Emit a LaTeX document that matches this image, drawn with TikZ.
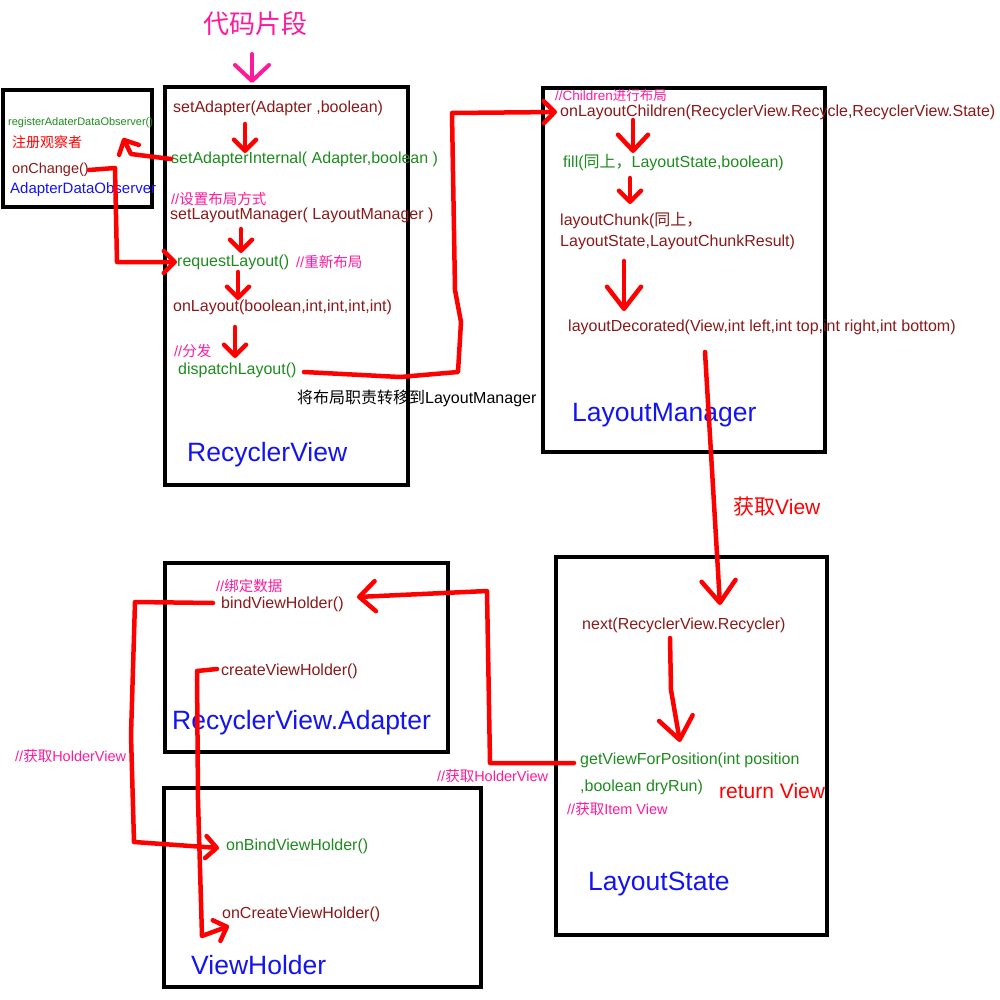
\documentclass[tikz,border=0pt]{standalone}
\usepackage{fontspec}
\setmainfont{Liberation Sans}
\newfontfamily\cjk{Noto Sans CJK SC}
\usetikzlibrary{arrows.meta}
\definecolor{dred}{HTML}{8B1A1A}
\definecolor{dgreen}{HTML}{1E8C1E}
\definecolor{dblue}{HTML}{1414F0}
\definecolor{pinkc}{HTML}{FF1A9C}
\definecolor{rline}{HTML}{FF0000}
\tikzset{
  lbl/.style={anchor=west,inner sep=0pt},
  fsz/.style={font=\fontsize{#1}{#1}\selectfont},
  drtxt/.style={lbl,text=dred,fsz=16},
  grtxt/.style={lbl,text=dgreen,fsz=16},
  cmnt/.style={lbl,text=pinkc,fsz=14.5},
  ttl/.style={lbl,text=dblue,fsz=26.5},
  boxx/.style={draw=black,line width=3.5pt},
  rl/.style={draw=rline,line width=4.5pt,line cap=round,line join=round},
  tipS/.style={-{Straight Barb[round,length=11pt,width=22pt]}},
  tipM/.style={-{Straight Barb[round,length=16pt,width=30pt]}},
  tipL/.style={-{Straight Barb[round,length=22pt,width=34pt]}},
}
\begin{document}
\begin{tikzpicture}[x=1pt,y=-1pt]
\useasboundingbox (0,0) rectangle (1000,1000);
\fill[white] (0,0) rectangle (1000,1000);

% boxes
\draw[boxx] (3,90) rectangle (152,207);
\draw[boxx] (165,87) rectangle (408,485);
\draw[boxx] (543,88) rectangle (825,452);
\draw[boxx] (556,557) rectangle (827,935);
\draw[boxx] (165,563) rectangle (448,752);
\draw[boxx] (164,788) rectangle (481,987);

% title
\node[text=pinkc,fsz=26,inner sep=0pt] (title) at (255,24) {\cjk 代码片段};
\coordinate (ta) at (252,54);
\coordinate (tb) at (252,83);
\draw[draw=pinkc,line width=4pt,line cap=round,-{Straight Barb[round,length=16pt,width=34pt]}] (ta) -- (tb);

% observer box
\node[lbl,text=dgreen,fsz=11] (reg) at (8,123) {registerAdaterDataObserver()};
\node[lbl,text=rline,fsz=14] (zc) at (12,142) {\cjk 注册观察者};
\node[lbl,text=dred,fsz=14.5] (onch) at (12,170) {onChange()};
\node[lbl,text=dblue,fsz=15] (ado) at (10,190) {AdapterDataObserver};

% RecyclerView box
\node[drtxt] (sa) at (173,108) {setAdapter(Adapter ,boolean)};
\node[grtxt] (sai) at (171,159) {setAdapterInternal( Adapter,boolean )};
\node[cmnt] (c1) at (171,199) {//{\cjk 设置布局方式}};
\node[drtxt] (slm) at (170,215) {setLayoutManager( LayoutManager )};
\node[grtxt] (rql) at (177,262) {requestLayout()};
\node[cmnt] (c2) at (296,262) {//{\cjk 重新布局}};
\node[drtxt] (onl) at (173,307) {onLayout(boolean,int,int,int,int)};
\node[cmnt] (c3) at (174,351) {//{\cjk 分发}};
\node[grtxt] (dsp) at (178,370) {dispatchLayout()};
\node[lbl,text=black,fsz=16] (trans) at (297,398) {{\cjk 将布局职责转移到}LayoutManager};
\node[ttl] (rvt) at (187,455) {RecyclerView};

% LayoutManager box
\node[cmnt,fsz=13.5] (c4) at (555,95) {//Children{\cjk 进行布局}};
\node[drtxt] (olc) at (560,112) {onLayoutChildren(RecyclerView.Recycle,RecyclerView.State)};
\node[grtxt] (fill) at (563,163) {fill({\cjk 同上，}LayoutState,boolean)};
\node[drtxt] (lc1) at (560,221) {layoutChunk({\cjk 同上，}};
\node[drtxt] (lc2) at (560,242) {LayoutState,LayoutChunkResult)};
\node[drtxt] (ld) at (568,327) {layoutDecorated(View,int left,int top,int right,int bottom)};
\node[ttl] (lmt) at (572,415) {LayoutManager};
\node[lbl,text=rline,fsz=21] (gv) at (733,507) {{\cjk 获取}View};

% LayoutState box
\node[drtxt] (nxt) at (582,625) {next(RecyclerView.Recycler)};
\node[grtxt] (gvp1) at (580,760) {getViewForPosition(int position};
\node[grtxt] (gvp2) at (580,787) {,boolean dryRun)};
\node[lbl,text=rline,fsz=21] (rv) at (719,791) {return View};
\node[cmnt] (c5) at (567,809) {//{\cjk 获取}Item View};
\node[ttl] (lst) at (588,884) {LayoutState};
\node[cmnt] (c6) at (437,776) {//{\cjk 获取}HolderView};

% Adapter box
\node[cmnt] (c7) at (216,586) {//{\cjk 绑定数据}};
\node[drtxt] (bvh) at (221,604) {bindViewHolder()};
\node[drtxt] (cvh) at (221,671) {createViewHolder()};
\node[ttl] (adt) at (172,723) {RecyclerView.Adapter};
\node[cmnt] (c8) at (15,756) {//{\cjk 获取}HolderView};

% ViewHolder box
\node[grtxt] (obvh) at (226,846) {onBindViewHolder()};
\node[drtxt] (ocvh) at (222,914) {onCreateViewHolder()};
\node[ttl] (vht) at (191,965) {ViewHolder};

% short down arrows
\coordinate (a1s) at (245,124); \coordinate (a1e) at (245,153);
\coordinate (a2s) at (241,229); \coordinate (a2e) at (241,253);
\coordinate (a3s) at (238,272); \coordinate (a3e) at (238,300);
\coordinate (a4s) at (235,327); \coordinate (a4e) at (235,358);
\coordinate (a5s) at (633,120); \coordinate (a5e) at (633,153);
\coordinate (a6s) at (630,178); \coordinate (a6e) at (630,204);
\coordinate (a7s) at (624,261); \coordinate (a7e) at (624,311);
\draw[rl,tipS] (a1s) -- (a1e);
\draw[rl,tipS] (a2s) -- (a2e);
\draw[rl,tipS] (a3s) -- (a3e);
\draw[rl,tipS] (a4s) -- (a4e);
\draw[rl,tipM] (a5s) -- (a5e);
\draw[rl,tipS] (a6s) -- (a6e);
\draw[rl,tipL] (a7s) -- (a7e);

% setAdapterInternal -> register observer
\coordinate (r1) at (131,154);
\coordinate (r2) at (123,138);
\draw[rl,tipS] (sai.west) -- (r1) -- (r2);

% onChange -> requestLayout
\coordinate (o1) at (115,168);
\coordinate (o2) at (117,262);
\draw[rl,tipS] (onch.east) -- (o1) -- (o2) -- (rql.west);

% dispatchLayout -> onLayoutChildren
\coordinate (d0) at (304,372);
\coordinate (d1) at (400,377);
\coordinate (d2) at (458,372);
\coordinate (d3) at (461,322);
\coordinate (d4) at (455,290);
\coordinate (d5) at (452,113);
\coordinate (d6) at (557,112);
\draw[rl,tipS] (d0) -- (d1) -- (d2) -- (d3) -- (d4) -- (d5) -- (d6);

% layoutDecorated -> next
\coordinate (l0) at (705,352);
\coordinate (l1) at (712,470);
\coordinate (l2) at (720,605);
\draw[rl,tipL] (l0) -- (l1) -- (l2);

% next -> getViewForPosition
\coordinate (n0) at (670,638);
\coordinate (n1) at (671,690);
\coordinate (n2) at (680,742);
\draw[rl,tipL] (n0) -- (n1) -- (n2);

% getViewForPosition -> bindViewHolder
\coordinate (g0) at (574,763);
\coordinate (g1) at (490,763);
\coordinate (g2) at (487,591);
\coordinate (g3) at (357,597);
\draw[rl,tipM] (g0) -- (g1) -- (g2) -- (g3);

% bindViewHolder -> onBindViewHolder
\coordinate (b0) at (213,603);
\coordinate (b1) at (135,602);
\coordinate (b2) at (131,735);
\coordinate (b3) at (134,842);
\coordinate (b4) at (219,848);
\draw[rl,tipS] (b0) -- (b1) -- (b2) -- (b3) -- (b4);

% createViewHolder -> onCreateViewHolder
\coordinate (k0) at (217,669);
\coordinate (k1) at (197,671);
\coordinate (k2) at (198,800);
\coordinate (k3) at (202,936);
\coordinate (k4) at (229,926);
\draw[rl,tipS] (k0) -- (k1) -- (k2) -- (k3) -- (k4);

\end{tikzpicture}
\end{document}
